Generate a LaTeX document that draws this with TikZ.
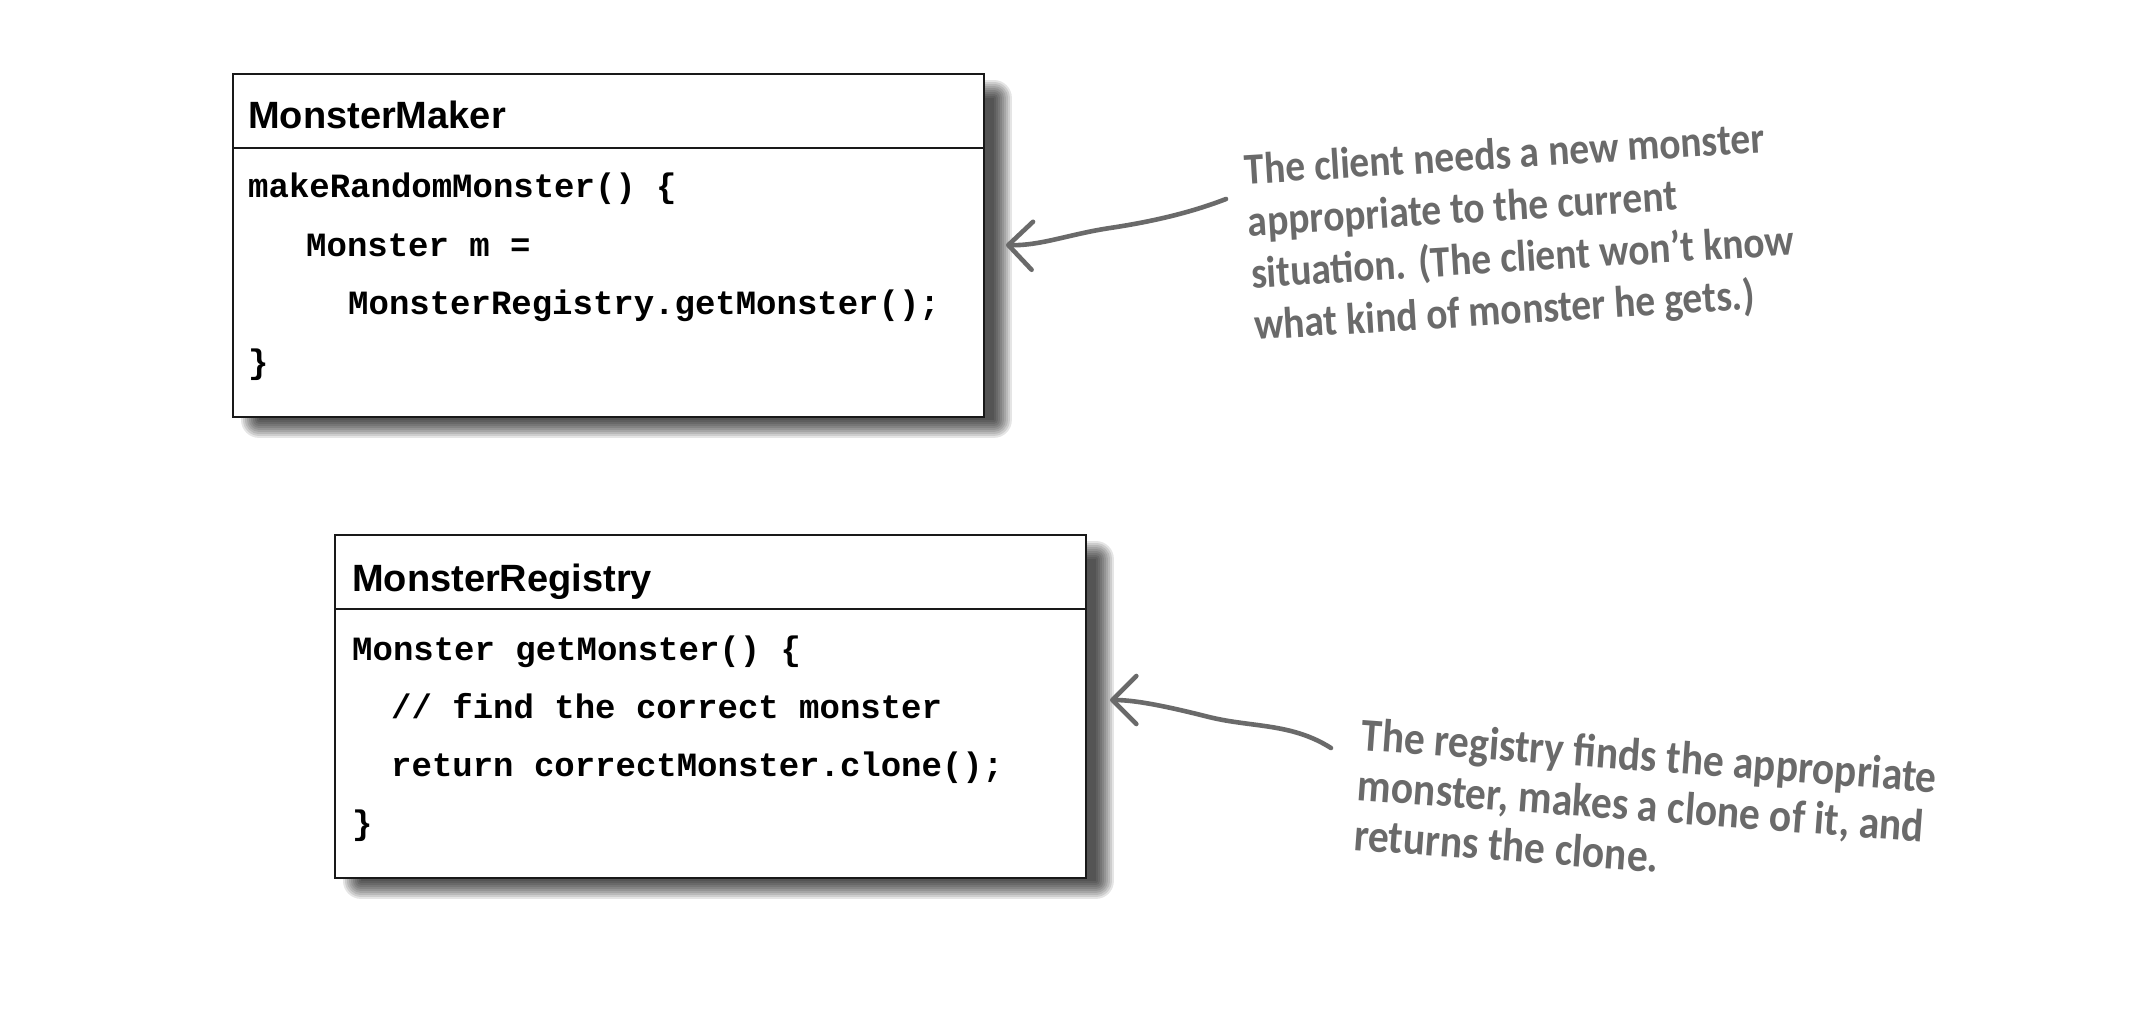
\documentclass[tikz,border=0pt]{standalone}
\usepackage{fontspec}
\setmainfont{Liberation Sans}
\newfontfamily\codefont{Liberation Mono}
\newfontfamily\handfont{Carlito}
\usetikzlibrary{calc,arrows.meta,backgrounds}
\definecolor{handgray}{HTML}{6A6A6A}
\begin{document}
\begin{tikzpicture}[x=1pt,y=1pt,
  umlbox/.style={draw=black!90, line width=1.9pt, fill=white, inner sep=0pt, anchor=north west,
    minimum width=751pt, minimum height=343pt},
  shadowlayer/.style={fill=black, opacity=0.1},
  divider/.style={draw=black!90, line width=1.6pt},
  boxtitle/.style={anchor=base west, inner sep=0pt, font=\fontsize{38}{44}\selectfont\bfseries},
  codeline/.style={anchor=base west, inner sep=0pt, font=\fontsize{34}{40}\selectfont\codefont\bfseries},
  handtext/.style={anchor=base west, inner sep=0pt, text=handgray},
  notearrow/.style={draw=handgray, line width=4.6pt, line cap=round, line join=round,
    -{Straight Barb[length=24pt,width=48pt,round]}}
]
\path[use as bounding box] (0,0) rectangle (2148,-1028);

% MonsterMaker box
\node[umlbox] (mm) at (232,-73) {};
\draw[divider] ($(mm.north west)+(0,-75)$) -- ($(mm.north east)+(0,-75)$);
\node[boxtitle] (mmt) at (248,-128) {MonsterMaker};
\node[codeline] (mm1) at (248,-197) {makeRandomMonster() \{};
\node[codeline] (mm2) at (306,-256) {Monster m =};
\node[codeline] (mm3) at (348,-314) {MonsterRegistry.getMonster();};
\node[codeline] (mm4) at (248,-373) {\}};

% MonsterRegistry box
\node[umlbox] (mr) at (334,-534) {};
\draw[divider] ($(mr.north west)+(0,-75)$) -- ($(mr.north east)+(0,-75)$);
\node[boxtitle] (mrt) at (352,-591) {MonsterRegistry};
\node[codeline] (mr1) at (352,-660) {Monster getMonster() \{};
\node[codeline] (mr2) at (391,-718) {// find the correct monster};
\node[codeline] (mr3) at (391,-776) {return correctMonster.clone();};
\node[codeline] (mr4) at (352,-834) {\}};

% annotation 1 (base = baseline of its last line)
\node[handtext, rotate=3.5, font=\fontsize{39.5}{46}\selectfont\handfont\bfseries] (n1) at (1255,-340)
  {\scalebox{1}[1.12]{\vbox{\baselineskip=46.4pt\lineskiplimit=-100pt
    \hbox{The client needs a new monster}
    \hbox{appropriate to the current}
    \hbox{situation. (The client won’t know}
    \hbox{what kind of monster he gets.)}}}};

% annotation 2
\node[handtext, rotate=-4.2, font=\fontsize{41.5}{46}\selectfont\handfont\bfseries] (n2) at (1353,-850)
  {\scalebox{1}[1.12]{\vbox{\baselineskip=44.6pt\lineskiplimit=-100pt
    \hbox{The registry finds the appropriate}
    \hbox{monster, makes a clone of it, and}
    \hbox{returns the clone.}}}};

% arrows
\coordinate (a1s) at (1226,-199);
\coordinate (a1t) at (1006,-245);
\draw[notearrow] (a1s) .. controls (1190,-213) and (1150,-222) .. (1110,-228) .. controls (1070,-234) and (1040,-246) .. (a1t);

\coordinate (a2s) at (1331,-748);
\coordinate (a2t) at (1110,-700);
\draw[notearrow] (a2s) .. controls (1290,-722) and (1250,-728) .. (1205,-716) .. controls (1165,-706) and (1135,-700) .. (a2t);

% white page and soft drop shadows behind the boxes
\begin{pgfonlayer}{background}
  \fill[white] (0,0) rectangle (2148,-1028);
  \foreach \r in {0,2,...,18} {
    \fill[shadowlayer, rounded corners=\r pt]
      ($(mm.north west)+(27-\r,-25+\r)$) rectangle ($(mm.south east)+(9+\r,-2-\r)$);
    \fill[shadowlayer, rounded corners=\r pt]
      ($(mr.north west)+(27-\r,-25+\r)$) rectangle ($(mr.south east)+(9+\r,-2-\r)$);
  }
\end{pgfonlayer}
\end{tikzpicture}
\end{document}
